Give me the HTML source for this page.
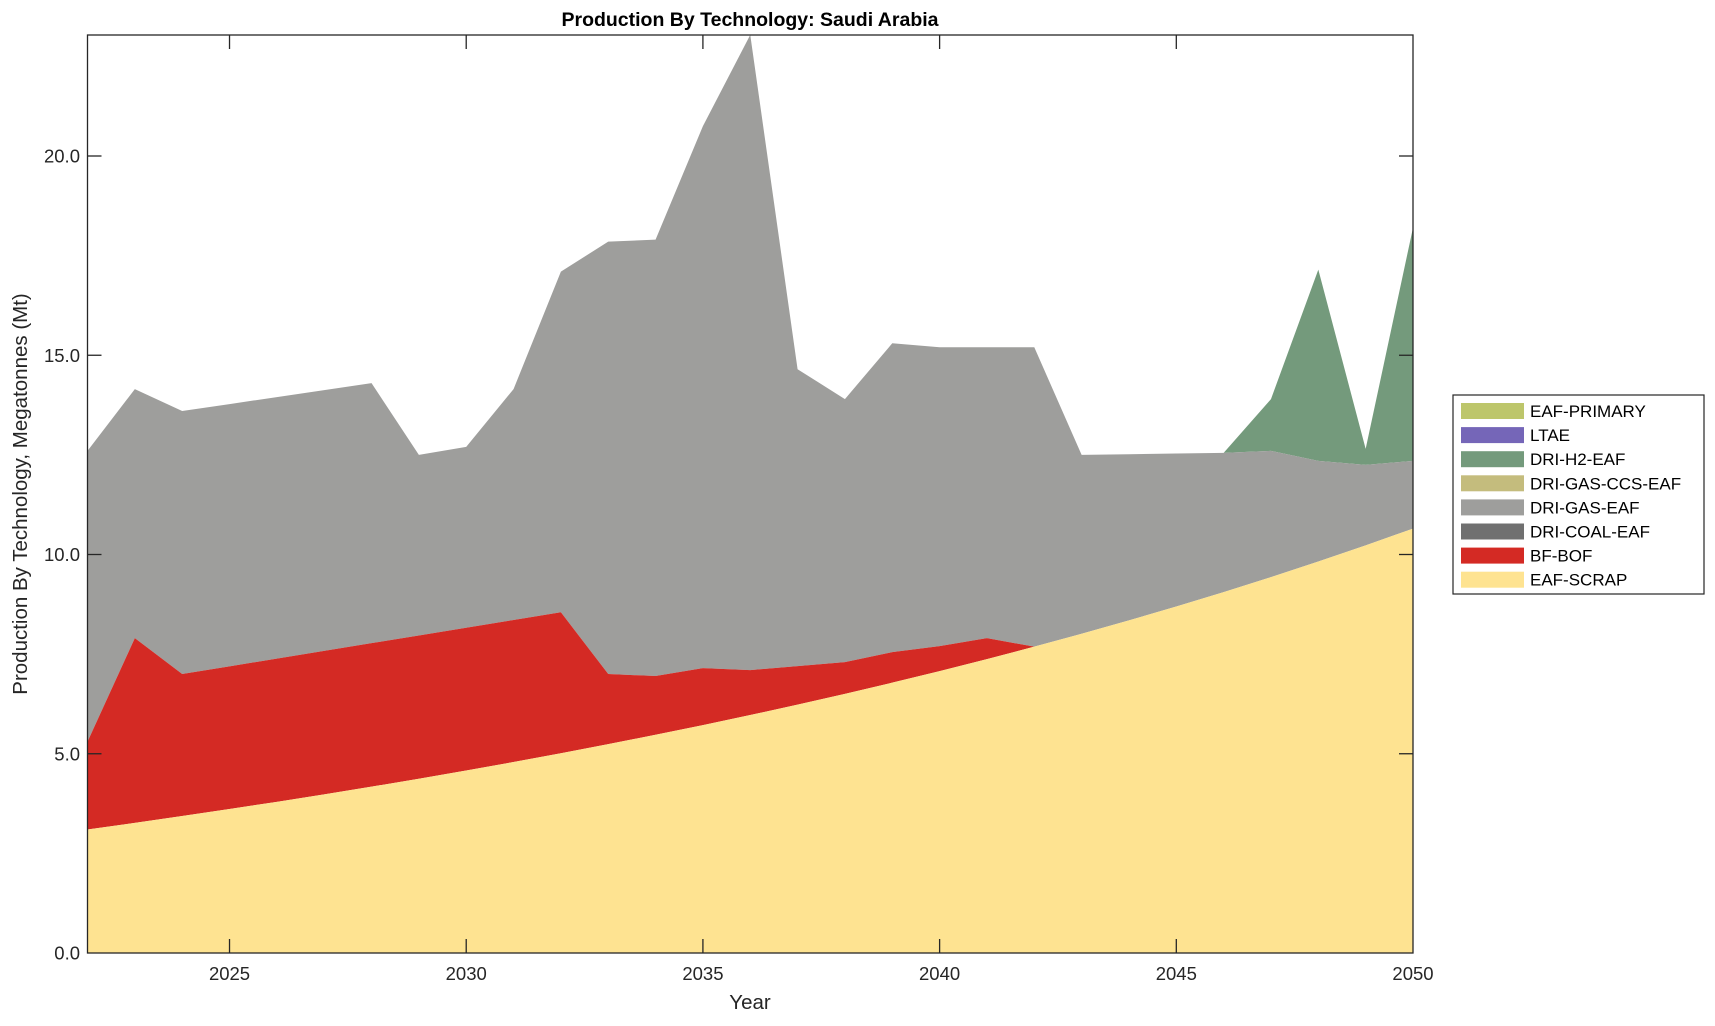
<!DOCTYPE html>
<html><head><meta charset="utf-8"><style>
body{margin:0;background:#fff;}
svg{font-family:"Liberation Sans",Arial,sans-serif;}
</style></head><body>
<svg id="s" width="1715" height="1021" xmlns="http://www.w3.org/2000/svg">
<rect width="1715" height="1021" fill="#fff"/>
<g id="areas"></g>
<rect x="87.5" y="35" width="1325.5" height="918" fill="none" stroke="#262626" stroke-width="1.3"/>
<g id="ticks" stroke="#262626" stroke-width="1.3"></g>
<g id="labels" font-size="18.5" fill="#262626"></g>
<text x="750" y="26" font-size="19.5" font-weight="bold" text-anchor="middle" fill="#000">Production By Technology: Saudi Arabia</text>
<text x="750" y="1009" font-size="20.5" text-anchor="middle" fill="#262626">Year</text>
<text transform="translate(27,494) rotate(-90)" font-size="20.5" text-anchor="middle" fill="#262626">Production By Technology, Megatonnes (Mt)</text>
<rect x="1453" y="395" width="251" height="199" fill="#fff" stroke="#262626" stroke-width="1.2"/>
<g id="legend" font-size="17" fill="#000"></g>
</svg>
<script>
var X0=87.5,X1=1413,Y0=953,YT=156;
function px(t){return X0+(t-2022)*(X1-X0)/28;}
function py(v){return Y0-v*(Y0-YT)/20;}
var yrs=[];for(var t=2022;t<=2050;t++)yrs.push(t);
var scrap=yrs.map(function(t){var f=(t-2022)/28;return 0.8*3.1*Math.pow(10.65/3.1,f)+0.2*(3.1+7.55*f);});
var bfm={2022:5.3,2023:7.9,2024:7.0,2032:8.55,2033:7.0,2034:6.95,2035:7.15,2036:7.1,2037:7.2,2038:7.3,2039:7.55,2040:7.7,2041:7.9};
for(var t=2025;t<2032;t++)bfm[t]=7.0+(8.55-7.0)*(t-2024)/8;
var bf=yrs.map(function(t,i){return bfm[t]!==undefined?Math.max(bfm[t],scrap[i]):scrap[i];});
var gm={2022:12.6,2023:14.15,2024:13.6,2028:14.3,2029:12.5,2030:12.7,2031:14.15,2032:17.1,2033:17.85,2034:17.9,2035:20.75,2036:23.04,2037:14.65,2038:13.9,2039:15.3,2040:15.2,2041:15.2,2042:15.2,2043:12.5,2046:12.55,2047:12.6,2048:12.35,2049:12.25,2050:12.35};
for(var t=2025;t<2028;t++)gm[t]=13.6+(14.3-13.6)*(t-2024)/4;
gm[2044]=12.517;gm[2045]=12.533;
var gas=yrs.map(function(t){return gm[t];});
var hm={2047:13.9,2048:17.15,2049:12.65,2050:18.2};
var h2=yrs.map(function(t,i){return hm[t]!==undefined?hm[t]:gas[i];});
function area(top,bot,col){
 var d="M"+px(2022)+","+py(top[0]);
 for(var i=1;i<yrs.length;i++)d+="L"+px(yrs[i])+","+py(top[i]);
 for(var i=yrs.length-1;i>=0;i--)d+="L"+px(yrs[i])+","+py(bot?bot[i]:0);
 return '<path d="'+d+'Z" fill="'+col+'"/>';
}
var z=yrs.map(function(){return 0;});
document.getElementById("areas").innerHTML=area(h2,gas,"#749A7C")+area(gas,bf,"#9E9E9C")+area(bf,scrap,"#D42A24")+area(scrap,z,"#FEE391");
var tk="",lb="";
[2025,2030,2035,2040,2045,2050].forEach(function(t){var x=px(t);
 if(t<2050){tk+='<line x1="'+x+'" y1="953" x2="'+x+'" y2="939"/><line x1="'+x+'" y1="35" x2="'+x+'" y2="49"/>';}
 lb+='<text x="'+x+'" y="980" text-anchor="middle">'+t+'</text>';});
[0,5,10,15,20].forEach(function(v){var y=py(v);
 if(v>0){tk+='<line x1="87.5" y1="'+y+'" x2="101.5" y2="'+y+'"/><line x1="1413" y1="'+y+'" x2="1399" y2="'+y+'"/>';}
 lb+='<text x="80" y="'+(y+6.5)+'" text-anchor="end">'+v.toFixed(1)+'</text>';});
document.getElementById("ticks").innerHTML=tk;
document.getElementById("labels").innerHTML=lb;
var L=[["EAF-PRIMARY","#BDC66B"],["LTAE","#7566B8"],["DRI-H2-EAF","#749A7C"],["DRI-GAS-CCS-EAF","#C4BC7D"],["DRI-GAS-EAF","#9E9E9C"],["DRI-COAL-EAF","#707070"],["BF-BOF","#D42A24"],["EAF-SCRAP","#FEE391"]];
var lg="";L.forEach(function(e,i){var y=411+i*24.1;
 lg+='<rect x="1461" y="'+(y-8)+'" width="63" height="16" fill="'+e[1]+'"/><text x="1530" y="'+(y+6)+'">'+e[0]+'</text>';});
document.getElementById("legend").innerHTML=lg;
</script>
</body></html>
